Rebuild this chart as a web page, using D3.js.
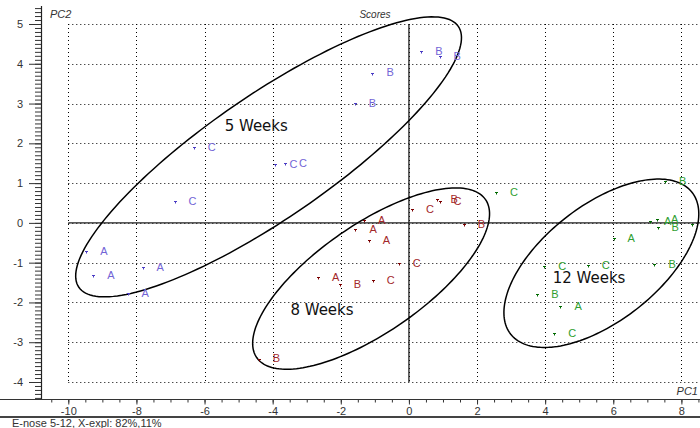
<!DOCTYPE html>
<html lang="en">
<head>
<meta charset="UTF-8">
<title>Scores</title>
<script src="https://d3js.org/d3.v7.min.js"></script>
<style>
    body { margin: 0; background: #ffffff; }
    svg { display: block; font-family: "Liberation Sans", Arial, sans-serif; }
    .tick text { font-size: 11px; fill: #333; }
    .tick line { stroke: #333; }
    .grid line { stroke: #000; stroke-width: 1; stroke-dasharray: 1,3; }
    .week { font-family: "DejaVu Sans", sans-serif; font-size: 15px; fill: #111; }
    .pt { font-size: 11px; }
</style>
</head>
<body>
<svg id="chart" width="700" height="428"></svg>
<script>
// score values (PC1, PC2) with sample letter
const week5Labels = ['B', 'B', 'B', 'B', 'C', 'C', 'C', 'C', 'A', 'A', 'A', 'A'];
const week5PC1 = [0.36, 0.90, -1.07, -1.59, -6.32, -3.92, -3.64, -6.88, -9.47, -9.27, -7.82, -8.26];
const week5PC2 = [4.32, 4.19, 3.78, 3.02, 1.91, 1.49, 1.51, 0.55, -0.70, -1.32, -1.12, -1.76];

const week8Labels = ['A', 'A', 'A', 'A', 'B', 'B', 'B', 'B', 'C', 'C', 'C', 'C'];
const week8PC1 = [-1.32, -1.57, -1.18, -2.67, -2.03, -4.41, 0.81, 1.61, 0.09, 0.90, -0.30, -1.06];
const week8PC2 = [0.08, -0.16, -0.44, -1.37, -1.54, -3.41, 0.60, -0.03, 0.34, 0.545, -1.02, -1.44];

// last point sits at the right edge, its letter falls outside the plot
const week12Labels = ['A', 'A', 'A', 'A', 'B', 'B', 'B', 'B', 'C', 'C', 'C', 'C', ''];
const week12PC1 = [7.08, 7.28, 6.01, 4.45, 7.52, 7.30, 7.21, 3.77, 2.56, 3.97, 5.25, 4.27, 8.32];
const week12PC2 = [0.05, 0.09, -0.38, -2.08, 1.05, -0.10, -1.04, -1.78, 0.78, -1.08, -1.06, -2.78, -0.02];

const xTicks = [-10, -8, -6, -4, -2, 0, 2, 4, 6, 8];
const yTicks = [-4, -3, -2, -1, 0, 1, 2, 3, 4, 5];

// group ellipses: centre, major and minor half-axis vectors (data units)
const weekNames = ['5 Weeks', '8 Weeks', '12 Weeks'];
const ellipseCentres = [[-4.12, 1.66], [-1.11, -1.40], [5.65, -1.015]];
const ellipseMajor = [[5.57, 3.28], [3.36, 1.985], [2.666, 1.778]];
const ellipseMinor = [[1.024, -1.276], [0.897, -1.121], [1.038, -1.149]];
const weekNameAt = [[-5.41, 2.31], [-3.48, -2.315], [4.22, -1.51]];

const labelColours = ['#7264d6', '#a3282a', '#2f9e2f'];
const markColours = ['#4a3cc4', '#7a0000', '#006a00'];

const svg = d3.select('#chart');
const axisLeftX = 41, axisBottomY = 399.5;

const x = d3.scaleLinear().domain([-10, 8]).range([68.3, 681.4]);
const y = d3.scaleLinear().domain([-4, 5]).range([382, 24]);

// dotted grid
const grid = svg.append('g').attr('class', 'grid');
grid.selectAll('.gh').data(yTicks).join('line')
    .attr('x1', x(-10)).attr('x2', 700)
    .attr('y1', d => Math.round(y(d)) + 0.5).attr('y2', d => Math.round(y(d)) + 0.5);
grid.selectAll('.gv').data(xTicks).join('line')
    .attr('y1', y(5)).attr('y2', y(-4))
    .attr('x1', d => Math.round(x(d)) + 0.5).attr('x2', d => Math.round(x(d)) + 0.5);

// zero lines
svg.append('line')
    .attr('x1', x(-10)).attr('x2', 700)
    .attr('y1', y(0)).attr('y2', y(0))
    .attr('stroke', '#222').attr('stroke-width', 1.3);
svg.append('line')
    .attr('x1', x(0)).attr('x2', x(0))
    .attr('y1', y(5)).attr('y2', y(-4))
    .attr('stroke', '#222').attr('stroke-width', 1.3);

// y axis
const yAxis = svg.append('g').attr('transform', `translate(${axisLeftX},0)`);
yAxis.call(d3.axisLeft(y).tickValues(d3.range(-44, 55).map(v => v / 10)).tickSize(6).tickFormat(''));
yAxis.append('g').call(d3.axisLeft(y).tickValues(yTicks).tickSize(12).tickPadding(6).tickFormat(d => String(d)));
yAxis.selectAll('.domain').remove();
yAxis.selectAll('.tick text').attr('font-size', null).attr('font-family', null);
svg.append('line')
    .attr('x1', axisLeftX + 0.5).attr('x2', axisLeftX + 0.5)
    .attr('y1', 6).attr('y2', axisBottomY)
    .attr('stroke', '#222').attr('stroke-width', 1.2);

// x axis
const xAxis = svg.append('g').attr('transform', `translate(0,${axisBottomY})`);
xAxis.call(d3.axisBottom(x).tickValues(d3.range(-21, 18).map(v => v / 2)).tickSize(3).tickFormat(''));
xAxis.append('g').call(d3.axisBottom(x).tickValues(xTicks).tickSize(5).tickPadding(3).tickFormat(d => String(d)));
xAxis.selectAll('.domain').remove();
xAxis.selectAll('.tick text').attr('font-size', null).attr('font-family', null);
svg.append('line')
    .attr('x1', 0).attr('x2', 700)
    .attr('y1', axisBottomY).attr('y2', axisBottomY)
    .attr('stroke', '#333').attr('stroke-width', 1);
svg.append('line')
    .attr('x1', 0).attr('x2', 700)
    .attr('y1', 417).attr('y2', 417)
    .attr('stroke', '#444').attr('stroke-width', 2);

// titles
svg.append('text').attr('x', 50).attr('y', 18)
    .style('font-size', '11px').style('font-style', 'italic').attr('fill', '#333').text('PC2');
svg.append('text').attr('x', 698).attr('y', 395).attr('text-anchor', 'end')
    .style('font-size', '11px').style('font-style', 'italic').attr('fill', '#333').text('PC1');
svg.append('text').attr('x', 375).attr('y', 18).attr('text-anchor', 'middle')
    .style('font-size', '10px').style('font-style', 'italic').attr('fill', '#333').text('Scores');
svg.append('text').attr('x', 12).attr('y', 427)
    .style('font-size', '11px').attr('fill', '#333').text('E-nose 5-12, X-expl: 82%,11%');

// ellipses
const line = d3.line().x(d => x(d[0])).y(d => y(d[1]));
weekNames.forEach((name, i) => {
    const c = ellipseCentres[i], a = ellipseMajor[i], b = ellipseMinor[i];
    const pts = d3.range(0, 361, 2).map(deg => {
        const t = deg * Math.PI / 180;
        return [c[0] + a[0] * Math.cos(t) + b[0] * Math.sin(t),
                c[1] + a[1] * Math.cos(t) + b[1] * Math.sin(t)];
    });
    svg.append('path').attr('d', line(pts))
        .attr('fill', 'none').attr('stroke', '#000').attr('stroke-width', 1.5);
    svg.append('text').attr('class', 'week')
        .attr('x', x(weekNameAt[i][0])).attr('y', y(weekNameAt[i][1]))
        .text(name);
});

// points
const groups = [
    [week5PC1, week5PC2, week5Labels],
    [week8PC1, week8PC2, week8Labels],
    [week12PC1, week12PC2, week12Labels]
];
groups.forEach(([pc1, pc2, labs], gi) => {
    const data = pc1.map((v, i) => ({ pc1: v, pc2: pc2[i], lab: labs[i] }));
    const g = svg.append('g');
    g.selectAll('path').data(data).join('path')
        .attr('d', d => {
            const px = Math.round(x(d.pc1)) + 0.5, py = Math.round(y(d.pc2)) + 0.5;
            return `M${px - 1.5},${py}h3M${px},${py}v2`;
        })
        .attr('stroke', markColours[gi]).attr('stroke-width', 1).attr('fill', 'none');
    g.selectAll('text').data(data.filter(d => d.lab)).join('text')
        .attr('class', 'pt')
        .attr('x', d => x(d.pc1) + 14)
        .attr('y', d => y(d.pc2))
        .attr('dy', '0.36em')
        .attr('fill', labelColours[gi])
        .text(d => d.lab);
});
</script>
</body>
</html>
